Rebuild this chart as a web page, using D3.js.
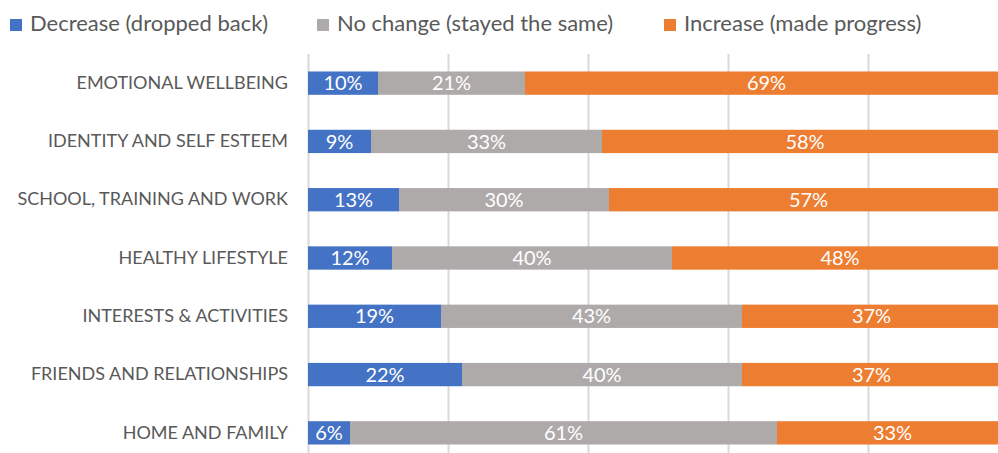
<!DOCTYPE html>
<html>
<head>
<meta charset="utf-8">
<script src="https://cdn.jsdelivr.net/npm/d3@7"></script>
<style>
  body { margin: 0; background: #fff; }
  svg { display: block; font-family: Lato, "Open Sans", sans-serif; }
</style>
</head>
<body>
<svg id="chart" width="998" height="453"></svg>
<script>
// categories top to bottom
const categories = [
  "EMOTIONAL WELLBEING",
  "IDENTITY AND SELF ESTEEM",
  "SCHOOL, TRAINING AND WORK",
  "HEALTHY LIFESTYLE",
  "INTERESTS & ACTIVITIES",
  "FRIENDS AND RELATIONSHIPS",
  "HOME AND FAMILY"
];
const seriesNames = ["Decrease (dropped back)", "No change (stayed the same)", "Increase (made progress)"];
const decrease = [10, 9, 13, 12, 19, 22, 6];
const noChange = [21, 33, 30, 40, 43, 40, 61];
const increase = [69, 58, 57, 48, 37, 37, 33];
const colors = ["#4472C4", "#AEAAAA", "#ED7D31"];
const gridTicks = [0, 20, 40, 60, 80, 100];

const svg = d3.select("#chart");

// build rows for stacking
let rows = categories.map((c, i) => ({ cat: c, dec: decrease[i], nc: noChange[i], inc: increase[i] }));
let stack = d3.stack().keys(["dec", "nc", "inc"]);
let layers = stack(rows);

let x = d3.scaleLinear().domain([0, 100]).range([308, 1008]);
let y = d3.scaleBand().domain(categories).range([54, 462]).paddingInner(0.6).paddingOuter(0.3);

// gridlines
svg.append("g").selectAll("line")
  .data(gridTicks)
  .join("line")
    .attr("x1", d => x(d) + 0.5).attr("x2", d => x(d) + 0.5)
    .attr("y1", 54).attr("y2", 462)
    .attr("stroke", "#D9D9D9").attr("stroke-width", 2);

// bars
let layerG = svg.append("g").selectAll("g")
  .data(layers)
  .join("g")
    .attr("fill", (d, i) => colors[i]);

layerG.selectAll("rect")
  .data(d => d)
  .join("rect")
    .attr("x", d => x(d[0]))
    .attr("width", d => x(d[1]) - x(d[0]))
    .attr("y", d => y(d.data.cat))
    .attr("height", y.bandwidth());

// data labels
layerG.selectAll("text")
  .data(d => d.map(v => Object.assign(v.slice(), { cat: v.data.cat })))
  .join("text")
    .attr("x", d => (x(d[0]) + x(d[1])) / 2)
    .attr("y", d => y(d.cat) + y.bandwidth() / 2)
    .attr("dy", "0.36em")
    .attr("text-anchor", "middle")
    .attr("fill", "#fff")
    .attr("font-size", 20)
    .text(d => (d[1] - d[0]) + "%");

// category axis
let yAxis = d3.axisLeft(y).tickSize(0).tickPadding(20);
let ax = svg.append("g").attr("transform", "translate(308,0)").call(yAxis);
ax.select(".domain").remove();
ax.selectAll("text")
  .attr("font-size", 18)
  .attr("fill", "#595959")
  .attr("font-family", "Lato, sans-serif");

// legend
let legendX = [10, 317, 664];
let leg = svg.append("g").selectAll("g")
  .data(seriesNames)
  .join("g")
    .attr("transform", (d, i) => `translate(${legendX[i]},0)`);
leg.append("rect")
  .attr("x", 0).attr("y", 19).attr("width", 12).attr("height", 12)
  .attr("fill", (d, i) => colors[i]);
leg.append("text")
  .attr("x", 20).attr("y", 31)
  .attr("font-size", 22)
  .attr("fill", "#595959")
  .text(d => d);
</script>
</body>
</html>
